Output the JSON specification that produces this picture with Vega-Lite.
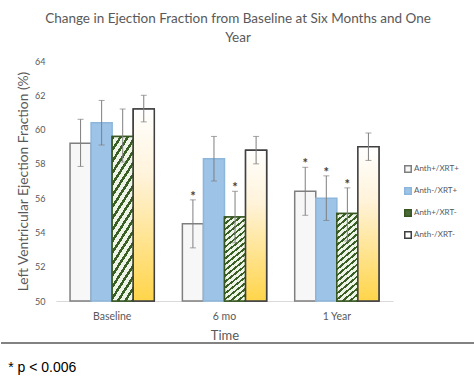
{
  "$schema": "https://vega.github.io/schema/vega-lite/v6.json",
  "padding": {"left": 0, "right": 0, "top": 11, "bottom": 0},
  "background": "white",
  "title": {
    "text": ["Change in Ejection Fraction from Baseline at Six Months and One", "Year"],
    "anchor": "middle",
    "font": "Lato",
    "fontSize": 13.5,
    "fontWeight": "normal",
    "color": "#595959",
    "lineHeight": 19,
    "offset": 13
  },
  "datasets": {
    "ef": [
      {"time": "Baseline", "group": "Anth+/XRT+", "value": 59.2, "lo": 57.85, "hi": 60.6, "sig": ""},
      {"time": "Baseline", "group": "Anth-/XRT+", "value": 60.4, "lo": 59.1, "hi": 61.7, "sig": ""},
      {"time": "Baseline", "group": "Anth+/XRT-", "value": 59.6, "lo": 58.1, "hi": 61.2, "sig": ""},
      {"time": "Baseline", "group": "Anth-/XRT-", "value": 61.2, "lo": 60.45, "hi": 62.0, "sig": ""},
      {"time": "6 mo", "group": "Anth+/XRT+", "value": 54.5, "lo": 53.1, "hi": 55.9, "sig": "*"},
      {"time": "6 mo", "group": "Anth-/XRT+", "value": 58.3, "lo": 57.0, "hi": 59.6, "sig": ""},
      {"time": "6 mo", "group": "Anth+/XRT-", "value": 54.9, "lo": 53.4, "hi": 56.4, "sig": "*"},
      {"time": "6 mo", "group": "Anth-/XRT-", "value": 58.8, "lo": 58.0, "hi": 59.6, "sig": ""},
      {"time": "1 Year", "group": "Anth+/XRT+", "value": 56.4, "lo": 55.0, "hi": 57.8, "sig": "*"},
      {"time": "1 Year", "group": "Anth-/XRT+", "value": 56.0, "lo": 54.7, "hi": 57.3, "sig": "*"},
      {"time": "1 Year", "group": "Anth+/XRT-", "value": 55.1, "lo": 53.5, "hi": 56.6, "sig": "*"},
      {"time": "1 Year", "group": "Anth-/XRT-", "value": 59.0, "lo": 58.2, "hi": 59.8, "sig": ""}
    ],
    "note": [{"note": "* p < 0.006"}]
  },
  "spacing": -4,
  "resolve": {
    "scale": {"fill": "independent", "stroke": "independent"},
    "legend": {"fill": "independent", "stroke": "independent"}
  },
  "vconcat": [
    {
      "spacing": 0,
      "resolve": {
        "scale": {"fill": "independent", "stroke": "independent"},
        "legend": {"fill": "independent", "stroke": "independent"}
      },
      "hconcat": [
        {
          "width": 15,
          "height": 240,
          "data": {"name": "note"},
          "mark": {"type": "rule", "opacity": 0},
          "encoding": {}
        },
        {
          "width": 337,
          "height": 240,
          "data": {"name": "ef"},
          "encoding": {
            "x": {
              "field": "time",
              "type": "nominal",
              "sort": ["Baseline", "6 mo", "1 Year"],
              "scale": {"paddingInner": 0.25, "paddingOuter": 0.125},
              "title": "Time",
              "axis": {
                "labelAngle": 0,
                "ticks": false,
                "domainColor": "#D9D9D9",
                "domainWidth": 1,
                "labelColor": "#595959",
                "labelFontSize": 10.5,
                "labelPadding": 10,
                "titleColor": "#595959",
                "titleFontSize": 13,
                "titleFontWeight": "normal",
                "titlePadding": 8
              }
            },
            "xOffset": {
              "field": "group",
              "type": "nominal",
              "sort": ["Anth+/XRT+", "Anth-/XRT+", "Anth+/XRT-", "Anth-/XRT-"]
            }
          },
          "layer": [
            {
              "mark": {"type": "bar", "strokeWidth": 1.5},
              "encoding": {
                "y": {
                  "field": "value",
                  "type": "quantitative",
                  "scale": {"domain": [50, 64], "nice": false, "zero": false},
                  "title": "Left Ventricular Ejection Fraction (%)",
                  "axis": {
                    "values": [50, 52, 54, 56, 58, 60, 62, 64],
                    "tickCount": 8,
                    "labelOverlap": false,
                    "domain": false,
                    "ticks": false,
                    "grid": false,
                    "labelColor": "#595959",
                    "labelFontSize": 9,
                    "labelPadding": 11,
                    "titleColor": "#595959",
                    "titleFontSize": 13.8,
                    "titleFontWeight": "normal",
                    "titlePadding": 4
                  }
                },
                "y2": {"datum": 50},
                "fill": {
                  "field": "group",
                  "type": "nominal",
                  "scale": {
                    "domain": ["Anth+/XRT+", "Anth-/XRT+", "Anth+/XRT-", "Anth-/XRT-"],
                    "range": ["#F7F7F7", "#9DC3E6", "#4A6B36", "#FFFFFF"]
                  },
                  "legend": {
                    "title": null,
                    "orient": "none",
                    "legendX": 348,
                    "legendY": 104,
                    "symbolType": "square",
                    "symbolSize": 42,
                    "symbolStrokeWidth": 1.5,
                    "labelFontSize": 8,
                    "labelColor": "#595959",
                    "labelOffset": 2,
                    "rowPadding": 8
                  }
                },
                "stroke": {
                  "field": "group",
                  "type": "nominal",
                  "scale": {
                    "domain": ["Anth+/XRT+", "Anth-/XRT+", "Anth+/XRT-", "Anth-/XRT-"],
                    "range": ["#7F7F7F", "#8DB6DC", "#385723", "#404040"]
                  }
                }
              }
            },
            {
              "transform": [{"filter": "datum.group === 'Anth+/XRT-'"}],
              "mark": {
                "type": "bar",
                "stroke": "#385723",
                "strokeWidth": 1.5,
                "fill": {
                  "gradient": "linear",
                  "x1": 0, "y1": 0, "x2": 0.24, "y2": 1.2,
                  "stops": [
                    {"offset": 0, "color": "#3A5F25"}, {"offset": 0.0222, "color": "#3A5F25"}, {"offset": 0.0222, "color": "#EEF5E8"}, {"offset": 0.0556, "color": "#EEF5E8"},
                    {"offset": 0.0556, "color": "#3A5F25"}, {"offset": 0.0778, "color": "#3A5F25"}, {"offset": 0.0778, "color": "#EEF5E8"}, {"offset": 0.1111, "color": "#EEF5E8"},
                    {"offset": 0.1111, "color": "#3A5F25"}, {"offset": 0.1333, "color": "#3A5F25"}, {"offset": 0.1333, "color": "#EEF5E8"}, {"offset": 0.1667, "color": "#EEF5E8"},
                    {"offset": 0.1667, "color": "#3A5F25"}, {"offset": 0.1889, "color": "#3A5F25"}, {"offset": 0.1889, "color": "#EEF5E8"}, {"offset": 0.2222, "color": "#EEF5E8"},
                    {"offset": 0.2222, "color": "#3A5F25"}, {"offset": 0.2444, "color": "#3A5F25"}, {"offset": 0.2444, "color": "#EEF5E8"}, {"offset": 0.2778, "color": "#EEF5E8"},
                    {"offset": 0.2778, "color": "#3A5F25"}, {"offset": 0.3, "color": "#3A5F25"}, {"offset": 0.3, "color": "#EEF5E8"}, {"offset": 0.3333, "color": "#EEF5E8"},
                    {"offset": 0.3333, "color": "#3A5F25"}, {"offset": 0.3556, "color": "#3A5F25"}, {"offset": 0.3556, "color": "#EEF5E8"}, {"offset": 0.3889, "color": "#EEF5E8"},
                    {"offset": 0.3889, "color": "#3A5F25"}, {"offset": 0.4111, "color": "#3A5F25"}, {"offset": 0.4111, "color": "#EEF5E8"}, {"offset": 0.4444, "color": "#EEF5E8"},
                    {"offset": 0.4444, "color": "#3A5F25"}, {"offset": 0.4667, "color": "#3A5F25"}, {"offset": 0.4667, "color": "#EEF5E8"}, {"offset": 0.5, "color": "#EEF5E8"},
                    {"offset": 0.5, "color": "#3A5F25"}, {"offset": 0.5222, "color": "#3A5F25"}, {"offset": 0.5222, "color": "#EEF5E8"}, {"offset": 0.5556, "color": "#EEF5E8"},
                    {"offset": 0.5556, "color": "#3A5F25"}, {"offset": 0.5778, "color": "#3A5F25"}, {"offset": 0.5778, "color": "#EEF5E8"}, {"offset": 0.6111, "color": "#EEF5E8"},
                    {"offset": 0.6111, "color": "#3A5F25"}, {"offset": 0.6333, "color": "#3A5F25"}, {"offset": 0.6333, "color": "#EEF5E8"}, {"offset": 0.6667, "color": "#EEF5E8"},
                    {"offset": 0.6667, "color": "#3A5F25"}, {"offset": 0.6889, "color": "#3A5F25"}, {"offset": 0.6889, "color": "#EEF5E8"}, {"offset": 0.7222, "color": "#EEF5E8"},
                    {"offset": 0.7222, "color": "#3A5F25"}, {"offset": 0.7444, "color": "#3A5F25"}, {"offset": 0.7444, "color": "#EEF5E8"}, {"offset": 0.7778, "color": "#EEF5E8"},
                    {"offset": 0.7778, "color": "#3A5F25"}, {"offset": 0.8, "color": "#3A5F25"}, {"offset": 0.8, "color": "#EEF5E8"}, {"offset": 0.8333, "color": "#EEF5E8"},
                    {"offset": 0.8333, "color": "#3A5F25"}, {"offset": 0.8556, "color": "#3A5F25"}, {"offset": 0.8556, "color": "#EEF5E8"}, {"offset": 0.8889, "color": "#EEF5E8"},
                    {"offset": 0.8889, "color": "#3A5F25"}, {"offset": 0.9111, "color": "#3A5F25"}, {"offset": 0.9111, "color": "#EEF5E8"}, {"offset": 0.9444, "color": "#EEF5E8"},
                    {"offset": 0.9444, "color": "#3A5F25"}, {"offset": 0.9667, "color": "#3A5F25"}, {"offset": 0.9667, "color": "#EEF5E8"}, {"offset": 1, "color": "#EEF5E8"}
                  ]
                }
              },
              "encoding": {
                "y": {"field": "value", "type": "quantitative"},
                "y2": {"datum": 50}
              }
            },
            {
              "transform": [{"filter": "datum.group === 'Anth-/XRT-'"}],
              "mark": {
                "type": "bar",
                "stroke": "#404040",
                "strokeWidth": 1.5,
                "fill": {
                  "gradient": "linear",
                  "x1": 0, "y1": 0, "x2": 0, "y2": 1,
                  "stops": [
                    {"offset": 0, "color": "#FFFFFF"},
                    {"offset": 0.35, "color": "#FFF3DA"},
                    {"offset": 1, "color": "#FFD54A"}
                  ]
                }
              },
              "encoding": {
                "y": {"field": "value", "type": "quantitative"},
                "y2": {"datum": 50}
              }
            },
            {
              "mark": {"type": "rule", "color": "#7F7F7F", "strokeWidth": 1},
              "encoding": {
                "y": {"field": "lo", "type": "quantitative"},
                "y2": {"field": "hi"}
              }
            },
            {
              "mark": {"type": "tick", "color": "#7F7F7F", "size": 6, "thickness": 1},
              "encoding": {"y": {"field": "lo", "type": "quantitative"}}
            },
            {
              "mark": {"type": "tick", "color": "#7F7F7F", "size": 6, "thickness": 1},
              "encoding": {"y": {"field": "hi", "type": "quantitative"}}
            },
            {
              "mark": {"type": "text", "font": "Lato", "fontSize": 13, "fontWeight": "bold", "color": "#404040", "baseline": "alphabetic", "dy": 1},
              "encoding": {
                "y": {"field": "hi", "type": "quantitative"},
                "text": {"field": "sig"}
              }
            }
          ]
        }
      ]
    },
    {
      "width": 474,
      "height": 1,
      "data": {"name": "note"},
      "title": {
        "text": "* p < 0.006",
        "orient": "bottom",
        "anchor": "start",
        "font": "Liberation Sans",
        "fontSize": 14,
        "fontWeight": "normal",
        "color": "#000000",
        "dx": 8,
        "offset": 17
      },
      "mark": {"type": "rule", "color": "#595959", "strokeWidth": 1.5},
      "encoding": {
        "y": {"datum": 1, "type": "quantitative", "scale": {"domain": [0, 1]}, "axis": null}
      }
    }
  ],
  "config": {
    "font": "Lato",
    "view": {"stroke": null},
    "axis": {"labelFont": "Lato", "titleFont": "Lato"},
    "legend": {"labelFont": "Lato"}
  }
}
